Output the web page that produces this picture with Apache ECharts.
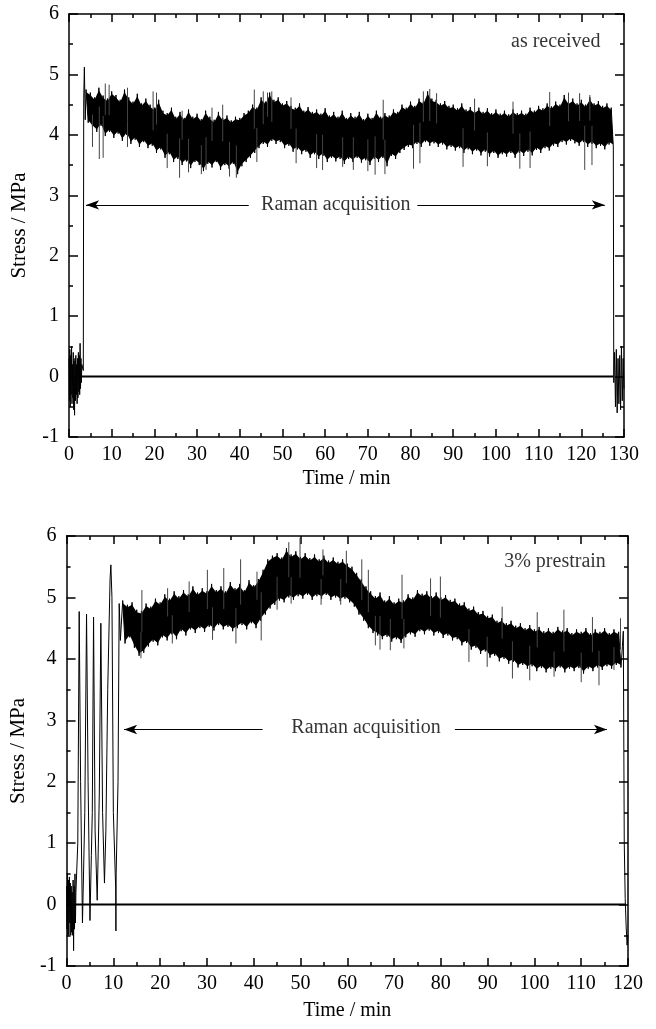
<!DOCTYPE html>
<html><head><meta charset="utf-8">
<script src="https://cdn.jsdelivr.net/npm/echarts@6/dist/echarts.min.js"></script>
<style>html,body{margin:0;padding:0;background:#fff}#c{width:656px;height:1029px}</style>
</head><body><div id="c"></div>
<script>
// ---------------- DATA ----------------
const X_LABEL = 'Time / min';
const Y_LABEL = 'Stress / MPa';
const A_TITLE = 'as received';
const B_TITLE = '3% prestrain';
const ARROW_TEXT = 'Raman acquisition';

// Panel A (as received): band top / bottom read at each minute, from minute 4
const aStartT = 4;
const aHi = [4.75,4.70,4.62,4.78,4.65,4.60,4.72,4.66,4.58,4.75,
  4.62,4.55,4.68,4.52,4.60,4.50,4.45,4.58,4.40,4.36,
  4.45,4.30,4.38,4.28,4.42,4.30,4.35,4.26,4.40,4.30,
  4.25,4.38,4.28,4.32,4.24,4.30,4.28,4.36,4.40,4.50,
  4.45,4.62,4.55,4.70,4.58,4.62,4.52,4.56,4.48,4.45,
  4.52,4.40,4.46,4.38,4.42,4.35,4.44,4.32,4.38,4.30,
  4.40,4.28,4.36,4.30,4.38,4.26,4.35,4.28,4.40,4.30,
  4.36,4.32,4.42,4.38,4.50,4.45,4.55,4.48,4.60,4.55,
  4.72,4.60,4.58,4.52,4.56,4.48,4.50,4.44,4.52,4.42,
  4.46,4.40,4.45,4.38,4.44,4.36,4.42,4.35,4.40,4.34,
  4.42,4.36,4.40,4.35,4.45,4.40,4.48,4.44,4.52,4.47,
  4.55,4.50,4.66,4.55,4.60,4.52,4.58,4.50,4.62,4.52,
  4.56,4.48,4.52,4.45];
const aLo = [4.20,4.12,4.05,4.15,3.98,4.05,3.95,4.02,3.90,4.00,
  3.85,3.92,3.80,3.88,3.78,3.82,3.70,3.76,3.62,3.68,
  3.55,3.60,3.50,3.56,3.45,3.55,3.50,3.40,3.52,3.46,
  3.55,3.42,3.50,3.44,3.52,3.35,3.48,3.55,3.62,3.70,
  3.78,3.85,3.80,3.90,3.85,3.88,3.78,3.82,3.72,3.76,
  3.68,3.72,3.62,3.68,3.60,3.65,3.55,3.62,3.56,3.60,
  3.52,3.60,3.55,3.62,3.54,3.58,3.50,3.60,3.55,3.62,
  3.48,3.65,3.60,3.70,3.75,3.80,3.78,3.85,3.80,3.88,
  3.82,3.86,3.80,3.84,3.76,3.80,3.74,3.78,3.70,3.76,
  3.68,3.74,3.66,3.72,3.64,3.70,3.62,3.68,3.64,3.70,
  3.62,3.70,3.65,3.72,3.66,3.75,3.70,3.78,3.74,3.82,
  3.80,3.88,3.84,3.90,3.86,3.82,3.88,3.80,3.85,3.78,
  3.82,3.76,3.84,3.80];
const aPreT = [0,0.1,0.2,0.3,0.4,0.5,0.6,0.7,0.8,0.9,1.0,1.1,1.2,1.3,1.4,1.5,1.6,1.7,1.8,1.9,2.0,2.1,2.2,2.3,2.4,2.5,2.6,2.7,2.8,2.9,3.0,3.35,3.45,3.6,3.8];
const aPreV = [0.3,-0.4,0.45,-0.5,0.35,-0.3,0.5,-0.45,0.2,-0.35,0.4,-0.55,0.25,-0.64,0.3,-0.4,0.35,-0.3,0.2,-0.45,0.3,-0.35,0.4,-0.25,0.35,-0.3,0.55,-0.2,0.3,-0.1,0.2,0.1,4.6,5.12,4.25];
const aPostT = [127.6,127.8,128.0,128.2,128.4,128.6,128.8,129.0,129.2,129.4,129.6,129.8,130];
const aPostV = [-0.1,0.4,-0.5,0.45,-0.6,0.3,-0.45,0.35,-0.55,0.5,-0.4,0.3,-0.2];
const aSpikeT = [8.5,9.4,13.7,19.7,20.5,26.5,33.5,36,43.4,45.5,46.5,47.5,52,73.6,83,84.5,86.1,95,104,112.6,117,119.6,122,
  5.5,7.1,8,13.7,23,25.9,28,31,32.1,37.6,39.2,44,53.2,58,59.4,64.1,66.6,70,71.7,74,80.7,82.2,92.3,98,105.6,108,120.8,122.5];
const aSpikeV = [4.85,4.83,4.78,4.72,4.70,4.40,4.45,4.50,4.75,4.72,4.70,4.72,4.62,4.58,4.72,4.76,4.69,4.60,4.55,4.71,4.70,4.69,4.66,
  3.80,3.60,3.62,3.80,3.45,3.29,3.38,3.35,3.42,3.31,3.29,3.55,3.53,3.45,3.42,3.47,3.42,3.40,3.34,3.35,3.44,3.53,3.47,3.48,3.44,3.45,3.42,3.50];
const aZeroT = [3.0,127.5];
const aArrowY = 2.84;
const aArrowLeft = [4.0,42.1];
const aArrowRight = [81.6,125.5];
const aTextPos = [62.5,2.84];
const aTitlePos = [114,5.54];

// Panel B (3% prestrain)
const bStartT = 12;
const bHi = [4.95,4.88,4.92,4.80,4.78,4.90,4.85,4.98,4.92,5.05,
  4.98,5.10,5.02,5.12,5.05,5.18,5.08,5.15,5.10,5.22,
  5.12,5.18,5.10,5.25,5.15,5.22,5.12,5.28,5.20,5.30,
  5.45,5.62,5.68,5.72,5.65,5.80,5.70,5.75,5.66,5.72,
  5.64,5.70,5.62,5.68,5.60,5.65,5.58,5.62,5.55,5.50,
  5.40,5.30,5.18,5.10,5.02,5.08,4.95,5.02,4.92,4.98,
  4.95,5.05,5.00,5.12,5.06,5.10,5.02,5.08,5.00,5.04,
  4.96,4.98,4.90,4.92,4.82,4.85,4.76,4.78,4.70,4.72,
  4.62,4.66,4.58,4.62,4.54,4.58,4.50,4.55,4.48,4.52,
  4.45,4.50,4.44,4.52,4.46,4.50,4.42,4.48,4.44,4.50,
  4.42,4.48,4.44,4.50,4.42,4.48,4.44];
const bLo = [4.25,4.35,4.18,4.05,4.10,4.20,4.28,4.22,4.35,4.30,
  4.40,4.32,4.45,4.38,4.48,4.42,4.50,4.44,4.52,4.46,
  4.55,4.48,4.52,4.45,4.50,4.55,4.48,4.58,4.50,4.62,
  4.72,4.82,4.88,4.95,4.92,5.00,4.96,5.02,4.98,5.04,
  4.96,5.02,4.98,5.04,4.96,5.00,4.94,4.98,4.92,4.85,
  4.72,4.62,4.50,4.42,4.38,4.32,4.36,4.28,4.32,4.26,
  4.35,4.40,4.36,4.45,4.40,4.46,4.38,4.42,4.34,4.38,
  4.30,4.32,4.22,4.26,4.15,4.18,4.08,4.12,4.02,4.05,
  3.96,4.00,3.92,3.95,3.86,3.90,3.84,3.88,3.80,3.85,
  3.78,3.84,3.80,3.86,3.78,3.84,3.80,3.85,3.76,3.84,
  3.80,3.86,3.82,3.88,3.84,3.90,3.86];
const bPreT = [0,0.1,0.2,0.3,0.4,0.5,0.6,0.7,0.8,0.9,1.0,1.1,1.2,1.3,1.4,1.5,1.6,1.7,1.8,1.9,2.0,
  2.4,2.7,3.0,3.4,3.6,
  3.9,4.27,4.6,5.0,5.3,
  5.5,5.77,6.1,6.55,6.8,
  7.0,7.33,7.7,8.1,8.4,
  8.8,9.3,9.47,9.7,10.0,10.5,10.55,10.6,
  11.0,11.25,11.5];
const bPreV = [0.3,-0.4,0.5,-0.5,0.4,-0.5,0.45,-0.3,0.35,-0.5,0.3,-0.45,0.2,-0.5,0.4,-0.75,0.3,-0.4,0.5,-0.3,0.2,
  1.0,4.77,2.0,-0.3,0.4,
  1.5,4.73,2.0,-0.26,0.8,
  1.5,4.68,1.2,0.07,1.0,
  1.8,4.58,1.5,0.35,1.2,
  3.5,5.3,5.53,5.0,1.5,0.27,-0.43,0.5,
  2.0,4.9,4.3];
const bPostT = [118.8,119.0,119.2,119.4,119.6,119.8,120];
const bPostV = [4.2,4.45,1.0,0.1,-0.35,-0.66,-0.5];
const bSpikeT = [16.1,21.6,26.2,30.1,33.6,37.2,40.7,47.5,49.9,54.8,59.8,63.1,64.5,71.7,77.8,79.9,93.1,100.6,106.3,112.4,118.4,
  15.9,22.6,31.2,36.2,41.6,45,48,54.4,58.6,66,67,69.2,72.1,86,89.9,95.3,99,104.2,110,113.8,117];
const bSpikeV = [5.12,5.15,5.26,5.45,5.48,5.62,5.42,5.90,5.97,5.78,5.76,5.62,5.45,5.37,5.31,5.34,4.85,4.76,4.80,4.68,4.66,
  4.01,4.25,4.31,4.25,4.30,4.80,4.90,4.88,4.88,4.22,4.15,4.14,4.17,3.95,3.87,3.68,3.65,3.71,3.62,3.57,3.82];
const bZeroT = [1.9,119.4];
const bArrowY = 2.85;
const bArrowLeft = [12.3,41.9];
const bArrowRight = [83.0,115.5];
const bTextPos = [64,2.88];
const bTitlePos = [104.4,5.58];

// ---------------- BUILD ----------------
const FONT = 'Liberation Serif';
const CORE_INSET = 0.04;
function trace(preT, preV, startT, hi, lo, postT, postV) {
  const d = [];
  preT.forEach((t, i) => d.push([t, preV[i]]));
  hi.forEach((h, i) => { const t = startT + i; d.push([t, h]); d.push([t + 0.5, lo[i]]); });
  postT.forEach((t, i) => d.push([t, postV[i]]));
  return d;
}
function spikes(st, sv, startT, hi, lo) {
  const d = [];
  st.forEach((t, i) => {
    let k = Math.round(t) - startT; k = Math.max(0, Math.min(hi.length - 1, k));
    d.push([t, (hi[k] + lo[k]) / 2]); d.push([t, sv[i]]); d.push([t, '-']);
  });
  return d;
}
function coreSeries(ax, startT, hi, lo) {
  return {
    type: 'custom', xAxisIndex: ax, yAxisIndex: ax, silent: true, z: 1, clip: true,
    data: [[startT, hi[0]]],
    renderItem: (params, api) => {
      const pts = [];
      hi.forEach((h, i) => pts.push(api.coord([startT + i, h - CORE_INSET])));
      for (let i = lo.length - 1; i >= 0; i--) pts.push(api.coord([startT + i + 0.5, lo[i] + CORE_INSET]));
      return { type: 'polygon', shape: { points: pts }, style: { fill: '#000' } };
    }
  };
}
const tickStyle = { color: '#000', width: 1.5 };
function xAxes(grid, max, nameGap) {
  const base = {
    type: 'value', gridIndex: grid, min: 0, max: max, interval: 10,
    axisLine: { show: true, onZero: false, lineStyle: { color: '#000', width: 1.5 } },
    axisTick: { show: true, inside: true, length: 8, lineStyle: tickStyle },
    minorTick: { show: true, splitNumber: 2, length: 4, lineStyle: tickStyle },
    splitLine: { show: false }, minorSplitLine: { show: false }
  };
  return [
    Object.assign({}, base, { position: 'bottom',
      axisLabel: { color: '#000', fontFamily: FONT, fontSize: 20, margin: 8 },
      name: X_LABEL, nameLocation: 'middle', nameGap: nameGap,
      nameTextStyle: { color: '#000', fontFamily: FONT, fontSize: 20 } }),
    Object.assign({}, base, { position: 'top', axisLabel: { show: false } })
  ];
}
function yAxes(grid, nameGap) {
  const base = {
    type: 'value', gridIndex: grid, min: -1, max: 6, interval: 1,
    axisLine: { show: true, onZero: false, lineStyle: { color: '#000', width: 1.5 } },
    axisTick: { show: true, inside: true, length: 9, lineStyle: tickStyle },
    minorTick: { show: true, splitNumber: 2, length: 4, lineStyle: tickStyle },
    splitLine: { show: false }, minorSplitLine: { show: false }
  };
  return [
    Object.assign({}, base, { position: 'left',
      axisLabel: { color: '#000', fontFamily: FONT, fontSize: 20, margin: 10 },
      name: Y_LABEL, nameLocation: 'middle', nameGap: nameGap, nameRotate: 90,
      nameTextStyle: { color: '#000', fontFamily: FONT, fontSize: 21 } }),
    Object.assign({}, base, { position: 'right', axisLabel: { show: false } })
  ];
}
function panelSeries(ax, startT, hi, lo, tr, sp, zeroT, arrowY, arrL, arrR, textPos, title, titlePos) {
  const idx = { xAxisIndex: ax, yAxisIndex: ax };
  const ml = (a, b, sa, sb) => [{ coord: [a, arrowY], symbol: sa }, { coord: [b, arrowY], symbol: sb }];
  return [
    coreSeries(ax, startT, hi, lo),
    Object.assign({ type: 'line', data: tr, showSymbol: false, symbol: 'none', sampling: null,
      lineStyle: { color: '#000', width: 1 }, z: 2, silent: true }, idx),
    Object.assign({ type: 'line', data: sp, showSymbol: false, symbol: 'none', connectNulls: false,
      lineStyle: { color: '#444', width: 1 }, z: 2, silent: true }, idx),
    Object.assign({ type: 'line', data: zeroT.map(t => [t, 0]), showSymbol: false, symbol: 'none',
      lineStyle: { color: '#000', width: 2 }, z: 3, silent: true,
      markLine: { silent: true, animation: false, symbolSize: [7, 13],
        label: { show: false }, lineStyle: { color: '#000', width: 1.2, type: 'solid' },
        emphasis: { disabled: true },
        data: [ml(arrL[0], arrL[1], 'arrow', 'none'), ml(arrR[0], arrR[1], 'none', 'arrow')] } }, idx),
    Object.assign({ type: 'scatter', symbolSize: 0, silent: true, z: 4,
      data: [{ value: textPos, name: ARROW_TEXT }, { value: titlePos, name: title }],
      label: { show: true, position: 'inside', formatter: p => p.name, color: '#000',
        fontFamily: FONT, fontSize: 20 } }, idx)
  ];
}

const chart = echarts.init(document.getElementById('c'), null, { renderer: 'canvas' });
chart.setOption({
  animation: false,
  backgroundColor: '#fff',
  grid: [
    { left: 69, top: 14, width: 555, height: 423 },
    { left: 66, top: 536, width: 562, height: 430 }
  ],
  xAxis: [].concat(xAxes(0, 130, 32), xAxes(1, 120, 35)),
  yAxis: [].concat(yAxes(0, 39), yAxes(1, 36)),
  series: [].concat(
    panelSeries(0, aStartT, aHi, aLo, trace(aPreT, aPreV, aStartT, aHi, aLo, aPostT, aPostV),
      spikes(aSpikeT, aSpikeV, aStartT, aHi, aLo), aZeroT, aArrowY, aArrowLeft, aArrowRight,
      aTextPos, A_TITLE, aTitlePos),
    panelSeries(2, bStartT, bHi, bLo, trace(bPreT, bPreV, bStartT, bHi, bLo, bPostT, bPostV),
      spikes(bSpikeT, bSpikeV, bStartT, bHi, bLo), bZeroT, bArrowY, bArrowLeft, bArrowRight,
      bTextPos, B_TITLE, bTitlePos)
  )
});
</script></body></html>
